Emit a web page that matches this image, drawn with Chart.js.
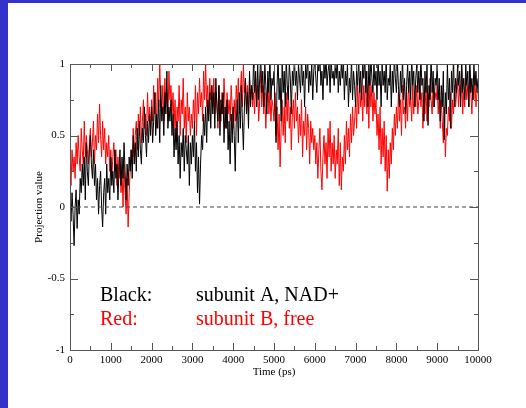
<!DOCTYPE html>
<html>
<head>
<meta charset="utf-8">
<script src="https://cdn.jsdelivr.net/npm/chart.js@4/dist/chart.umd.min.js"></script>
<style>
  html, body { margin: 0; padding: 0; background: #3333cc; }
  #paper { position: absolute; left: 8px; top: 3px; width: 518px; height: 405px; background: #fff; }
  #chart { position: absolute; left: 0; top: 0; }
</style>
</head>
<body>
<div id="paper"></div>
<canvas id="chart" width="526" height="408"></canvas>
<script>
// time axis: one sample every 25 ps
const tStep = 25;
const xTicks = [0, 1000, 2000, 3000, 4000, 5000, 6000, 7000, 8000, 9000, 10000];
const yTicks = [-1, -0.5, 0, 0.5, 1];

// subunit A, NAD+ (black), 20 samples per row = 500 ps
const blackVals = [
  0.05, -0.1, 0.1, -0.05, -0.27, 0.0, 0.12, -0.15, 0.05, -0.05, 0.2, 0.1, 0.3, 0.15, 0.35, 0.05, 0.45, 0.25, 0.15, 0.4,
  0.5, 0.3, 0.2, 0.4, 0.15, 0.3, 0.05, 0.2, -0.05, 0.15, 0.25, 0.0, -0.14, 0.1, 0.2, -0.05, 0.3, 0.1, 0.2, 0.05,
  0.35, 0.15, 0.25, 0.1, 0.4, 0.2, 0.3, 0.05, 0.25, 0.4, 0.15, 0.35, 0.2, 0.45, 0.25, 0.05, 0.3, 0.15, 0.35, 0.25,
  0.4, 0.2, 0.5, 0.3, 0.45, 0.25, 0.55, 0.35, 0.6, 0.4, 0.3, 0.55, 0.45, 0.7, 0.5, 0.35, 0.6, 0.45, 0.65, 0.5,
  0.7, 0.45, 0.6, 0.8, 0.5, 0.65, 0.55, 0.75, 0.45, 0.85, 0.6, 0.7, 0.5, 0.8, 0.65, 0.95, 0.55, 0.7, 0.6, 0.75,
  0.5, 0.65, 0.35, 0.55, 0.4, 0.6, 0.3, 0.5, 0.2, 0.45, 0.35, 0.55, 0.25, 0.5, 0.4, 0.3, 0.5, 0.15, 0.45, 0.3,
  0.5, 0.35, 0.6, 0.25, 0.45, 0.1, 0.35, 0.02, 0.3, 0.5, 0.4, 0.65, 0.5, 0.7, 0.45, 0.75, 0.6, 0.8, 0.55, 0.85,
  0.65, 0.8, 0.55, 0.9, 0.7, 0.6, 0.85, 0.5, 0.75, 0.65, 0.8, 0.45, 0.7, 0.55, 0.75, 0.4, 0.6, 0.3, 0.65, 0.45,
  0.7, 0.5, 0.25, 0.6, 0.75, 0.45, 0.8, 0.55, 0.85, 0.6, 0.4, 0.7, 0.9, 0.65, 0.8, 0.55, 0.95, 0.7, 0.85, 0.75,
  1.05, 0.8, 0.95, 0.7, 1.0, 0.75, 0.9, 1.05, 0.8, 0.95, 0.7, 1.0, 0.85, 0.65, 0.95, 0.8, 1.05, 0.75, 0.9, 0.85,
  0.95, 0.7, 0.45, 0.85, 1.05, 0.75, 0.9, 0.6, 1.0, 0.8, 0.95, 0.7, 1.05, 0.85, 0.75, 1.0, 0.9, 0.65, 0.95, 0.85,
  1.05, 0.85, 0.95, 0.75, 1.0, 0.9, 0.8, 1.05, 0.85, 0.95, 0.7, 1.0, 0.9, 1.05, 0.8, 0.95, 0.85, 1.0, 0.75, 0.95,
  1.05, 0.9, 0.8, 1.0, 0.95, 1.05, 0.85, 0.95, 0.75, 1.0, 0.9, 1.05, 0.85, 0.95, 1.0, 0.8, 1.05, 0.9, 0.95, 0.85,
  1.0, 0.9, 1.05, 0.8, 0.95, 0.85, 1.0, 0.9, 1.05, 0.75, 0.95, 0.85, 1.0, 0.7, 0.9, 0.8, 1.05, 0.75, 0.95, 0.85,
  0.7, 0.95, 0.85, 1.05, 0.8, 0.95, 0.75, 1.0, 0.9, 1.05, 0.8, 0.95, 0.7, 1.0, 0.85, 1.05, 0.9, 0.8, 1.0, 0.85,
  0.95, 0.75, 1.05, 0.85, 0.95, 0.7, 1.0, 0.85, 0.95, 0.8, 1.05, 0.75, 0.9, 0.85, 1.0, 0.7, 0.95, 0.8, 1.05, 0.9,
  0.8, 1.0, 0.85, 0.7, 0.95, 0.8, 1.05, 0.75, 0.9, 0.65, 0.85, 1.0, 0.8, 0.95, 0.75, 1.05, 0.85, 0.95, 0.7, 0.9,
  1.0, 0.8, 0.95, 0.75, 1.05, 0.85, 0.9, 0.6, 0.95, 0.8, 1.0, 0.57, 0.85, 0.75, 1.05, 0.8, 0.95, 0.7, 0.9, 0.85,
  1.0, 0.75, 0.9, 0.6, 0.85, 0.7, 0.95, 0.47, 0.8, 0.65, 1.0, 0.75, 0.9, 0.55, 0.95, 0.8, 1.05, 0.7, 0.9, 0.8,
  1.0, 0.85, 0.95, 0.7, 1.05, 0.8, 0.9, 0.75, 1.0, 0.85, 0.95, 0.7, 1.05, 0.8, 0.9, 0.75, 1.0, 0.85, 0.95, 0.8,
  0.9
];

// subunit B, free (red), 20 samples per row = 500 ps
const redVals = [
  0.3, 0.15, 0.4, 0.25, 0.35, 0.2, 0.45, 0.3, 0.5, 0.35, 0.25, 0.55, 0.4, 0.3, 0.6, 0.35, 0.5, 0.4, 0.3, 0.45,
  0.55, 0.35, 0.45, 0.6, 0.3, 0.5, 0.4, 0.65, 0.45, 0.72, 0.5, 0.35, 0.6, 0.4, 0.55, 0.3, 0.45, 0.35, 0.5, 0.25,
  0.4, 0.2, 0.35, 0.45, 0.25, 0.4, 0.15, 0.35, 0.2, 0.3, 0.1, 0.25, 0.0, 0.3, 0.1, -0.05, 0.2, -0.14, 0.1, 0.25,
  0.4, 0.3, 0.55, 0.35, 0.5, 0.6, 0.4, 0.65, 0.5, 0.7, 0.45, 0.6, 0.75, 0.55, 0.65, 0.5, 0.8, 0.6, 0.7, 0.55,
  0.75, 0.6, 0.85, 0.65, 0.8, 0.55, 0.9, 0.7, 1.0, 0.75, 0.65, 0.85, 0.6, 0.9, 0.7, 0.8, 0.6, 0.95, 0.75, 0.85,
  0.65, 0.8, 0.55, 0.75, 0.45, 0.7, 0.6, 0.85, 0.5, 0.75, 0.65, 0.9, 0.55, 0.7, 0.45, 0.8, 0.6, 0.7, 0.5, 0.65,
  0.55, 0.75, 0.6, 0.85, 0.5, 0.8, 0.65, 0.9, 0.7, 0.8, 0.6, 0.95, 0.75, 1.0, 0.7, 0.85, 0.65, 0.9, 0.75, 0.85,
  0.7, 0.9, 0.65, 0.8, 0.75, 0.55, 0.85, 0.7, 0.6, 0.8, 0.65, 0.9, 0.7, 0.55, 0.8, 0.65, 0.75, 0.6, 0.85, 0.7,
  0.55, 0.75, 0.6, 0.85, 0.7, 0.9, 0.65, 0.8, 0.95, 0.7, 1.0, 0.8, 0.9, 0.7, 0.85, 0.65, 0.9, 0.75, 0.85, 0.7,
  0.8, 0.65, 0.9, 0.7, 0.85, 0.6, 0.75, 0.95, 0.7, 0.85, 0.65, 0.8, 0.55, 0.75, 0.9, 0.65, 0.8, 0.6, 0.75, 0.7,
  0.6, 0.8, 0.5, 0.7, 0.4, 0.65, 0.28, 0.55, 0.75, 0.5, 0.7, 0.45, 0.8, 0.6, 0.85, 0.55, 0.7, 0.4, 0.65, 0.75,
  0.55, 0.8, 0.6, 0.7, 0.45, 0.65, 0.5, 0.75, 0.35, 0.6, 0.5, 0.7, 0.4, 0.65, 0.55, 0.3, 0.6, 0.45, 0.55, 0.4,
  0.5, 0.3, 0.45, 0.2, 0.4, 0.55, 0.25, 0.12, 0.35, 0.5, 0.3, 0.45, 0.2, 0.55, 0.35, 0.6, 0.25, 0.45, 0.3, 0.5,
  0.2, 0.4, 0.3, 0.55, 0.15, 0.45, 0.12, 0.35, 0.25, 0.5, 0.3, 0.6, 0.4, 0.55, 0.35, 0.65, 0.45, 0.7, 0.5, 0.6,
  0.75, 0.55, 0.85, 0.65, 0.9, 0.7, 0.8, 0.6, 0.85, 0.7, 0.95, 0.65, 0.8, 0.55, 0.9, 0.7, 0.85, 0.6, 0.8, 0.65,
  0.75, 0.5, 0.65, 0.4, 0.7, 0.3, 0.55, 0.35, 0.6, 0.25, 0.5, 0.11, 0.4, 0.2, 0.45, 0.3, 0.55, 0.4, 0.65, 0.5,
  0.7, 0.55, 0.8, 0.6, 0.75, 0.5, 0.85, 0.65, 0.7, 0.55, 0.8, 0.6, 0.9, 0.7, 0.75, 0.6, 0.85, 0.65, 0.8, 0.7,
  0.85, 0.65, 0.75, 0.9, 0.7, 0.8, 0.55, 0.75, 0.65, 0.85, 0.6, 0.8, 0.7, 0.9, 0.75, 0.65, 0.85, 0.7, 0.8, 0.75,
  0.85, 0.65, 0.8, 0.55, 0.75, 0.6, 0.45, 0.7, 0.35, 0.55, 0.5, 0.7, 0.6, 0.8, 0.55, 0.75, 0.65, 0.85, 0.7, 0.8,
  0.9, 0.7, 0.85, 0.75, 0.95, 0.65, 0.8, 0.7, 0.9, 0.75, 0.85, 0.7, 0.95, 0.8, 0.65, 0.85, 0.75, 0.9, 0.7, 0.8,
  0.8
];

const toPoints = (vals) => vals.map((v, i) => ({ x: i * tStep, y: v }));

const serif = "'Liberation Serif', 'DejaVu Serif', serif";

// frame with inward ticks on all four sides, titles and the in-plot legend
const framePlugin = {
  id: "frame",
  afterDraw(chart) {
    const { ctx, chartArea: a, scales } = chart;
    const xs = scales.x, ys = scales.y;
    ctx.save();
    ctx.strokeStyle = "#555";
    ctx.lineWidth = 1;
    ctx.strokeRect(a.left + 0.5, a.top + 0.5, a.right - a.left, a.bottom - a.top);
    ctx.beginPath();
    for (let t = 0; t <= 10000; t += 500) {
      const len = t % 1000 === 0 ? 7 : 4;
      const px = Math.round(xs.getPixelForValue(t)) + 0.5;
      ctx.moveTo(px, a.bottom); ctx.lineTo(px, a.bottom - len);
      ctx.moveTo(px, a.top); ctx.lineTo(px, a.top + len);
    }
    for (let v = -1; v <= 1.001; v += 0.25) {
      const len = Math.abs(v * 2 - Math.round(v * 2)) < 0.01 ? 8 : 4;
      const py = Math.round(ys.getPixelForValue(v)) + 0.5;
      ctx.moveTo(a.left, py); ctx.lineTo(a.left + len, py);
      ctx.moveTo(a.right, py); ctx.lineTo(a.right - len, py);
    }
    ctx.stroke();

    ctx.fillStyle = "#000";
    ctx.font = "11px " + serif;
    ctx.textAlign = "center";
    ctx.textBaseline = "middle";
    ctx.fillText("Time (ps)", (a.left + a.right) / 2, 372);
    ctx.translate(39, (a.top + a.bottom) / 2);
    ctx.rotate(-Math.PI / 2);
    ctx.fillText("Projection value", 0, 0);
    ctx.restore();

    ctx.save();
    ctx.font = "20px " + serif;
    ctx.textAlign = "left";
    ctx.textBaseline = "alphabetic";
    ctx.fillStyle = "#000";
    ctx.fillText("Black:", 100, 301);
    ctx.fillText("subunit A, NAD+", 196, 301);
    ctx.fillStyle = "#ff0000";
    ctx.fillText("Red:", 100, 325);
    ctx.fillText("subunit B, free", 196, 325);
    ctx.restore();
  },
};

new Chart(document.getElementById("chart"), {
  type: "line",
  data: {
    datasets: [
      {
        label: "subunit A, NAD+",
        data: toPoints(blackVals),
        borderColor: "#000",
        borderWidth: 1,
        pointRadius: 0,
        tension: 0,
        order: 1,
      },
      {
        label: "subunit B, free",
        data: toPoints(redVals),
        borderColor: "#ff0000",
        borderWidth: 1,
        pointRadius: 0,
        tension: 0,
        order: 2,
      },
      {
        label: "zero",
        data: [{ x: 0, y: 0 }, { x: 10000, y: 0 }],
        borderColor: "#444",
        borderWidth: 1,
        borderDash: [4, 3],
        pointRadius: 0,
        order: 0,
      },
    ],
  },
  options: {
    responsive: false,
    animation: false,
    devicePixelRatio: 1,
    layout: { padding: { left: 0, right: 48, top: 64, bottom: 0 } },
    plugins: { legend: { display: false }, tooltip: { enabled: false } },
    scales: {
      x: {
        type: "linear",
        min: 0,
        max: 10000,
        afterFit: (s) => { s.height = 58; },
        afterBuildTicks: (s) => { s.ticks = xTicks.map((v) => ({ value: v })); },
        grid: { display: false, drawTicks: false },
        border: { display: false },
        ticks: {
          color: "#000", font: { family: serif, size: 11 }, padding: 4, maxRotation: 0,
          callback: (v) => String(v),
        },
      },
      y: {
        min: -1,
        max: 1,
        afterFit: (s) => { s.width = 70; },
        afterBuildTicks: (s) => { s.ticks = yTicks.map((v) => ({ value: v })); },
        grid: { display: false, drawTicks: false },
        border: { display: false },
        ticks: {
          color: "#000", font: { family: serif, size: 11 }, padding: 5,
          callback: (v) => String(v),
        },
      },
    },
  },
  plugins: [framePlugin],
});
</script>
</body>
</html>
